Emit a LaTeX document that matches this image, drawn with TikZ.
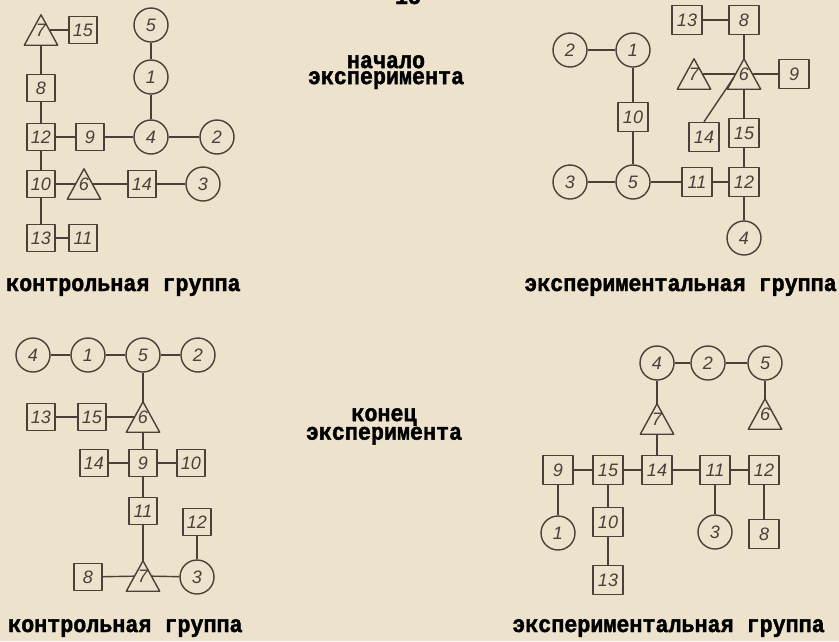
\documentclass[tikz,border=0pt]{standalone}
\usepackage{fontspec}
\usepackage{graphicx}
\usetikzlibrary{calc}
\newfontfamily\dfont{Liberation Sans}
\newfontfamily\lfont{Liberation Mono}[BoldFeatures={FakeBold=1.8}]
\newcommand{\digfont}{\dfont\itshape\fontsize{18}{18}\selectfont}
\newcommand{\lblfont}{\lfont\bfseries\fontsize{21.7}{16}\selectfont}
\newcommand{\tall}[1]{\scalebox{1}[1.1]{#1}}
\newcommand{\tdig}[1]{\raisebox{-4pt}{#1}}
\definecolor{paper}{RGB}{237,226,204}
\definecolor{linec}{RGB}{72,64,57}
\tikzset{
  lc/.style={draw=linec, line width=1.4pt, line join=round},
  sq/.style={lc, rectangle, minimum width=28pt, minimum height=27pt, inner sep=0pt, font=\digfont, text=linec},
  sqr/.style={sq, minimum width=30pt, minimum height=29pt},
  circ/.style={lc, circle, minimum size=34pt, inner sep=0pt, font=\digfont, text=linec},
  tri/.style={rectangle, minimum width=33pt, minimum height=30pt, inner sep=0pt, font=\digfont, text=linec},
  tl/.style={shorten <=-8.2pt},
  tr/.style={shorten >=-8.2pt},
  lbl/.style={font=\lblfont, text=black, inner sep=0pt},
  midlbl/.style={lbl, align=center, anchor=north}
}
\begin{document}
\begin{tikzpicture}[x=1pt,y=-1pt]
\useasboundingbox (0,0) rectangle (839,641);
\fill[paper] (0,0) rectangle (839,641);
\begin{scope}
\clip (0,0) rectangle (839,641);
\node[lbl, anchor=base] (pg) at (408,4) {\tall{15}};
\end{scope}
% labels
\node[midlbl] (m1) at (386,55) {\tall{начало}\\\tall{эксперимента}};
\node[midlbl] (m2) at (384,408) {\tall{конец}\\\tall{эксперимента}};
\node[lbl, anchor=base west] (lab1) at (6,291) {\tall{контрольная группа}};
\node[lbl, anchor=base east] (lab2) at (837,291) {\tall{экспериментальная группа}};
\node[lbl, anchor=base west] (lab3) at (8,632) {\tall{контрольная группа}};
\node[lbl, anchor=base east] (lab4) at (825,632) {\tall{экспериментальная группа}};
% top-left
\node[tri] (a7) at (41,30) {\tdig{7}};
\node[sq] (a15) at (83,30) {15};
\node[circ] (a5) at (151,25) {5};
\node[circ] (a1) at (151,77) {1};
\node[sq] (a8) at (41,88) {8};
\node[sq] (a12) at (41,137) {12};
\node[sq] (a9) at (90,137) {9};
\node[circ] (a4) at (151,137) {4};
\node[circ] (a2) at (217,137) {2};
\node[sq] (a10) at (41,184) {10};
\node[tri] (a6) at (84,184) {\tdig{6}};
\node[sq] (a14) at (142,184) {14};
\node[circ] (a3) at (203,184) {3};
\node[sq] (a13) at (41,238) {13};
\node[sq] (a11) at (83,238) {11};
\draw[lc,tl] (a7) -- (a15);
\draw[lc] (a7) -- (a8);
\draw[lc] (a8) -- (a12);
\draw[lc] (a12) -- (a9);
\draw[lc] (a9) -- (a4);
\draw[lc] (a4) -- (a2);
\draw[lc] (a5) -- (a1);
\draw[lc] (a1) -- (a4);
\draw[lc] (a12) -- (a10);
\draw[lc,tr] (a10) -- (a6);
\draw[lc,tl] (a6) -- (a14);
\draw[lc] (a14) -- (a3);
\draw[lc] (a10) -- (a13);
\draw[lc] (a13) -- (a11);
% top-right
\node[sqr] (b13) at (687,20) {13};
\node[sqr] (b8) at (744,20) {8};
\node[circ] (b2) at (570,50) {2};
\node[circ] (b1) at (633,50) {1};
\node[tri] (b7) at (694,74) {\tdig{7}};
\node[tri] (b6) at (744,74) {\tdig{6}};
\node[sqr] (b9) at (794,74) {9};
\node[sqr] (b10) at (633,117) {10};
\node[sqr] (b14) at (704,137) {14};
\node[sqr] (b15) at (744,133) {15};
\node[circ] (b3) at (570,182) {3};
\node[circ] (b5) at (633,182) {5};
\node[sqr] (b11) at (697,182) {11};
\node[sqr] (b12) at (744,182) {12};
\node[circ] (b4) at (744,238) {4};
\draw[lc] (b13) -- (b8);
\draw[lc] (b8) -- (b6);
\draw[lc,tl,tr] (b7) -- (b6);
\draw[lc,tl] (b6) -- (b9);
\draw[lc] (b6) -- (b15);
\draw[lc] (b15) -- (b12);
\draw[lc] (b12) -- (b4);
\draw[lc] (b2) -- (b1);
\draw[lc] (b1) -- (b10);
\draw[lc] (b10) -- (b5);
\draw[lc] (b3) -- (b5);
\draw[lc] (b5) -- (b11);
\draw[lc] (b11) -- (b12);
\draw[lc] (b14.north) -- ($(b6.north)!0.62!(b6.south west)$);
% bottom-left
\node[circ] (c4) at (33,355) {4};
\node[circ] (c1) at (88,355) {1};
\node[circ] (c5) at (143,355) {5};
\node[circ] (c2) at (198,355) {2};
\node[sq] (c13) at (41,417) {13};
\node[sq] (c15) at (92,417) {15};
\node[tri] (c6) at (143,417) {\tdig{6}};
\node[sq] (c14) at (94,463) {14};
\node[sq] (c9) at (143,463) {9};
\node[sq] (c10) at (191,463) {10};
\node[sq] (c11) at (143,511) {11};
\node[sq] (c12) at (197,522) {12};
\node[sq] (c8) at (88,577) {8};
\node[tri] (c7) at (143,576) {\tdig{7}};
\node[circ] (c3) at (197,577) {3};
\draw[lc] (c4) -- (c1);
\draw[lc] (c1) -- (c5);
\draw[lc] (c5) -- (c2);
\draw[lc] (c5) -- (c6);
\draw[lc] (c13) -- (c15);
\draw[lc,tr] (c15) -- (c6);
\draw[lc] (c6) -- (c9);
\draw[lc] (c14) -- (c9);
\draw[lc] (c9) -- (c10);
\draw[lc] (c9) -- (c11);
\draw[lc] (c11) -- (c7);
\draw[lc,tr] (c8) -- (c7);
\draw[lc,tl] (c7) -- (c3);
\draw[lc] (c12) -- (c3);
% bottom-right
\node[circ] (d4) at (657,363) {4};
\node[circ] (d2) at (708,363) {2};
\node[circ] (d5) at (765,363) {5};
\node[tri] (d7) at (657,419) {\tdig{7}};
\node[tri] (d6) at (765,414) {\tdig{6}};
\node[sqr] (d9) at (558,470) {9};
\node[sqr] (d15) at (608,470) {15};
\node[sqr] (d14) at (657,470) {14};
\node[sqr] (d11) at (715,470) {11};
\node[sqr] (d12) at (764,470) {12};
\node[circ] (d1) at (558,533) {1};
\node[sqr] (d10) at (608,522) {10};
\node[sqr] (d13) at (608,580) {13};
\node[circ] (d3) at (715,532) {3};
\node[sqr] (d8) at (764,534) {8};
\draw[lc] (d4) -- (d2);
\draw[lc] (d2) -- (d5);
\draw[lc] (d4) -- (d7);
\draw[lc] (d5) -- (d6);
\draw[lc] (d7) -- (d14);
\draw[lc] (d9) -- (d15);
\draw[lc] (d15) -- (d14);
\draw[lc] (d14) -- (d11);
\draw[lc] (d11) -- (d12);
\draw[lc] (d9) -- (d1);
\draw[lc] (d15) -- (d10);
\draw[lc] (d10) -- (d13);
\draw[lc] (d11) -- (d3);
\draw[lc] (d12) -- (d8);
% triangles
\foreach \t in {a7,a6,b7,b6,c6,c7,d7,d6}
  \draw[lc] (\t.north) -- (\t.south west) -- (\t.south east) -- cycle;
\end{tikzpicture}
\end{document}
